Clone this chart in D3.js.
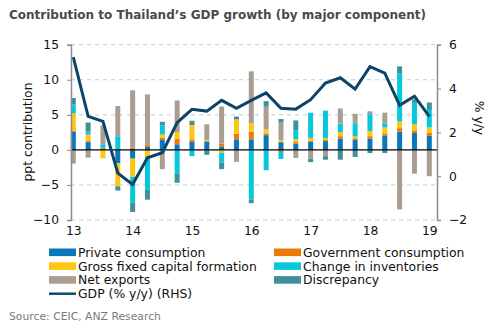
<!DOCTYPE html>
<html>
<head>
<meta charset="utf-8">
<script src="https://cdn.jsdelivr.net/npm/d3@7"></script>
<style>
  body { margin: 0; background: #fff; }
  svg { display: block; font-family: "DejaVu Sans", Verdana, sans-serif; }
</style>
</head>
<body>
<svg id="chart" width="495" height="329"></svg>
<script>
// quarters 2013Q1 .. 2019Q1
const quarters = [
  "13Q1", "13Q2", "13Q3", "13Q4", "14Q1", "14Q2", "14Q3", "14Q4",
  "15Q1", "15Q2", "15Q3", "15Q4", "16Q1", "16Q2", "16Q3", "16Q4",
  "17Q1", "17Q2", "17Q3", "17Q4", "18Q1", "18Q2", "18Q3", "18Q4", "19Q1"
];
const yearLabels = ["13", "14", "15", "16", "17", "18", "19"];

// contributions, ppt
const privateCons = [2.6, 1.1, 0.1, -1.9, -1.25, 0.5, 1.5, 0.8, 1.15, 1.15, 0.5, 1.5, 1.5, 2.1, 1.1, 0.9, 1.15, 1.25, 1.6, 1.4, 1.6, 2.0, 2.6, 2.4, 2.0];
const govCons = [0.1, 0.2, 0.2, 0.1, 0.3, 0.3, 0.2, 0.75, 0.35, 0.1, 0.4, 0.8, 1.1, 0.25, -0.3, 0.25, 0.15, 0.15, 0.35, 0.25, 0.35, 0.35, 0.5, 0.3, 0.45];
const gfcf = [2.5, 0.9, -1.2, -3.3, -2.6, -1.0, 0.5, 1.0, 2.05, 0.1, -0.4, 2.05, 1.2, 0.6, 0.3, 0.4, 0.4, 0.3, 0.6, 0.25, 0.75, 0.85, 0.95, 0.95, 0.75];
const inventories = [1.3, 0.4, 0.5, 1.85, -3.7, -4.7, 1.3, -3.4, -0.9, 0.1, -1.4, 0, -7.1, -2.9, -1.0, 1.25, 3.6, 3.9, 1.2, 1.9, 2.4, 0.6, 6.9, 3.05, 2.5];
const netExports = [-1.95, -1.1, 2.7, 4.3, 8.2, 7.1, -2.75, 4.5, 0, 2.2, 5.3, -1.7, 7.4, 3.2, 2.5, -1.15, -1.25, -0.9, 2.15, 1.35, 0.4, 1.5, -8.5, -3.4, -3.75];
const discrepancy = [0.9, 1.3, 0, -0.6, -1.3, -1.4, 0.5, -1.3, 0.6, -0.7, -0.95, 0.4, -0.5, 0.8, 0.5, 1.4, -0.5, -0.5, -1.4, -1.0, -0.45, -0.45, 0.95, 0.5, 1.05];
// GDP % y/y (RHS)
const gdp = [5.43, 2.73, 2.5, 0.14, -0.38, 0.84, 1.07, 2.44, 3.05, 2.97, 3.46, 3.1, 3.46, 3.8, 3.1, 3.06, 3.49, 4.25, 4.49, 3.97, 5.0, 4.7, 3.23, 3.65, 2.73];

const leftTicks = [-10, -5, 0, 5, 10, 15];
const rightTicks = [-2, 0, 2, 4, 6];

const series = [
  { key: "Private consumption", values: privateCons, color: "#0a77bd" },
  { key: "Government consumption", values: govCons, color: "#ec7806" },
  { key: "Gross fixed capital formation", values: gfcf, color: "#fec512" },
  { key: "Change in inventories", values: inventories, color: "#05c8dc" },
  { key: "Net exports", values: netExports, color: "#ab9d91" },
  { key: "Discrepancy", values: discrepancy, color: "#3f9099" }
];
const lineColor = "#0b4468";

const svg = d3.select("#chart");
const plotLeft = 71, plotRight = 437, plotTop = 44.7, plotBottom = 220;

const x = d3.scalePoint().domain(quarters).range([73.3, 429.3]);
const yL = d3.scaleLinear().domain([-10, 15]).range([plotBottom, plotTop]);
const yR = d3.scaleLinear().domain([-2, 6]).range([plotBottom, plotTop]);

// title
svg.append("text")
  .attr("x", 9).attr("y", 19)
  .attr("font-size", 12).attr("font-weight", "bold")
  .attr("fill", "#4a4a4c")
  .text("Contribution to Thailand\u2019s GDP growth (by major component)");

// grid
svg.append("g")
  .selectAll("line")
  .data(leftTicks.filter((d) => d !== 0))
  .enter()
  .append("line")
  .attr("x1", plotLeft).attr("x2", plotRight)
  .attr("y1", (d) => yL(d)).attr("y2", (d) => yL(d))
  .attr("stroke", "#b9cfd8").attr("stroke-width", 1)
  .attr("stroke-dasharray", "4,4");

// bars
const table = quarters.map((q, i) => {
  const row = { q: q };
  series.forEach((s) => (row[s.key] = s.values[i]));
  return row;
});
const stacked = d3.stack()
  .keys(series.map((s) => s.key))
  .offset(d3.stackOffsetDiverging)(table);

const barW = 5;
svg.append("g")
  .selectAll("g")
  .data(stacked)
  .enter()
  .append("g")
  .attr("fill", (d, i) => series[i].color)
  .selectAll("rect")
  .data((d) => d)
  .enter()
  .append("rect")
  .attr("x", (d) => x(d.data.q) - barW / 2)
  .attr("width", barW)
  .attr("y", (d) => yL(Math.max(d[0], d[1])))
  .attr("height", (d) => Math.abs(yL(d[0]) - yL(d[1])));

// zero line
svg.append("line")
  .attr("x1", plotLeft).attr("x2", plotRight)
  .attr("y1", yL(0)).attr("y2", yL(0))
  .attr("stroke", "#000").attr("stroke-width", 1.2);

// GDP line
svg.append("path")
  .datum(gdp)
  .attr("fill", "none")
  .attr("stroke", lineColor)
  .attr("stroke-width", 3)
  .attr("stroke-linejoin", "miter")
  .attr("d", d3.line().x((d, i) => x(quarters[i])).y((d) => yR(d)));

// axes
const axL = svg.append("g")
  .attr("transform", `translate(${plotLeft},0)`)
  .call(d3.axisLeft(yL).tickValues(leftTicks).tickSize(4).tickPadding(8));
const axR = svg.append("g")
  .attr("transform", `translate(${plotRight},0)`)
  .call(d3.axisRight(yR).tickValues(rightTicks).tickSize(4).tickPadding(8));
[axL, axR].forEach((ax) => {
  ax.select(".domain").attr("stroke", "#8c8c8c").attr("stroke-width", 1.5);
  ax.selectAll(".tick line").attr("stroke", "#8c8c8c");
  ax.selectAll(".tick text")
    .attr("font-size", 12.3)
    .attr("font-family", "DejaVu Sans, Verdana, sans-serif")
    .attr("fill", "#111");
});

const axX = svg.append("g")
  .attr("transform", `translate(0,${plotBottom})`)
  .call(d3.axisBottom(x)
    .tickValues(quarters.filter((q) => q.endsWith("Q1")))
    .tickFormat((q) => yearLabels[quarters.indexOf(q) / 4])
    .tickSize(0).tickPadding(6));
axX.select(".domain").remove();
axX.selectAll(".tick text")
  .attr("font-size", 12.3)
  .attr("font-family", "DejaVu Sans, Verdana, sans-serif")
  .attr("fill", "#111");

// axis titles
svg.append("text")
  .attr("transform", "translate(32,132) rotate(-90)")
  .attr("text-anchor", "middle")
  .attr("font-size", 12.3).attr("fill", "#111")
  .text("ppt contribution");
svg.append("text")
  .attr("transform", "translate(475,118) rotate(90)")
  .attr("text-anchor", "middle")
  .attr("font-size", 12.3).attr("fill", "#111")
  .text("% y/y");

// legend
const legendItems = [
  { label: series[0].key, color: series[0].color, col: 0, row: 0 },
  { label: series[1].key, color: series[1].color, col: 1, row: 0 },
  { label: series[2].key, color: series[2].color, col: 0, row: 1 },
  { label: series[3].key, color: series[3].color, col: 1, row: 1 },
  { label: series[4].key, color: series[4].color, col: 0, row: 2 },
  { label: series[5].key, color: series[5].color, col: 1, row: 2 },
  { label: "GDP (% y/y) (RHS)", color: lineColor, col: 0, row: 3, line: true }
];
const colX = [49, 274];
const leg = svg.append("g")
  .selectAll("g")
  .data(legendItems)
  .enter()
  .append("g")
  .attr("transform", (d) => `translate(${colX[d.col]},${252.3 + d.row * 13.8})`);
leg.append("rect")
  .attr("x", 0)
  .attr("y", (d) => (d.line ? -1.2 : -3.8))
  .attr("width", 27)
  .attr("height", (d) => (d.line ? 2.4 : 7.6))
  .attr("fill", (d) => d.color);
leg.append("text")
  .attr("x", 29).attr("y", 4.5)
  .attr("font-size", 12.4).attr("fill", "#111")
  .text((d) => d.label);

// source
svg.append("text")
  .attr("x", 9).attr("y", 320)
  .attr("font-size", 10.8).attr("fill", "#7a7a7a")
  .text("Source: CEIC, ANZ Research");
</script>
</body>
</html>
